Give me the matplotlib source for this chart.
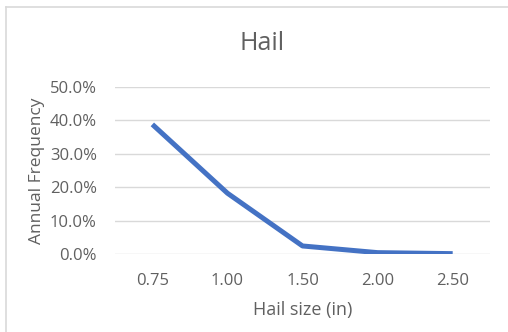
import matplotlib.pyplot as plt
from matplotlib.lines import Line2D
from matplotlib.ticker import PercentFormatter

sizes = ['0.75', '1.00', '1.50', '2.00', '2.50']
freq = [0.388, 0.182, 0.024, 0.004, 0.001]
yticks = [0.0, 0.1, 0.2, 0.3, 0.4, 0.5]

plt.rcParams['font.family'] = ['Open Sans', 'DejaVu Sans']
gray = '#606060'

fig = plt.figure(figsize=(5.08, 3.32), dpi=100)
ax = fig.add_axes([0.226, 0.235, 0.739, 0.503])

x = range(len(sizes))
ax.plot(x, freq, color='#4472C4', lw=3.6, solid_capstyle='butt')

ax.set_xlim(-0.5, len(sizes) - 0.5)
ax.set_ylim(0, 0.5)
ax.set_xticks(list(x))
ax.set_xticklabels(sizes)
ax.set_yticks(yticks)
ax.yaxis.set_major_formatter(PercentFormatter(1.0, decimals=1))
ax.grid(axis='y', color='#d9d9d9', lw=1)
ax.set_axisbelow(True)
for s in ax.spines.values():
    s.set_visible(False)
ax.tick_params(length=0, labelsize=12, labelcolor=gray)
ax.tick_params(axis='y', pad=13)
ax.tick_params(axis='x', pad=14)

ax.set_xlabel('Hail size (in)', fontsize=13, color=gray, labelpad=8)
ax.set_ylabel('Annual Frequency', fontsize=12.5, color=gray, labelpad=3)
fig.text(0.516, 0.87, 'Hail', ha='center', va='center', fontsize=18, color=gray)

# outer chart frame (top and left edges visible)
fig.add_artist(Line2D([0.011, 1.0], [0.98, 0.98], color='#d9d9d9', lw=1.2))
fig.add_artist(Line2D([0.011, 0.011], [0.0, 0.98], color='#d9d9d9', lw=1.2))

fig.savefig('out.png', dpi=100)
